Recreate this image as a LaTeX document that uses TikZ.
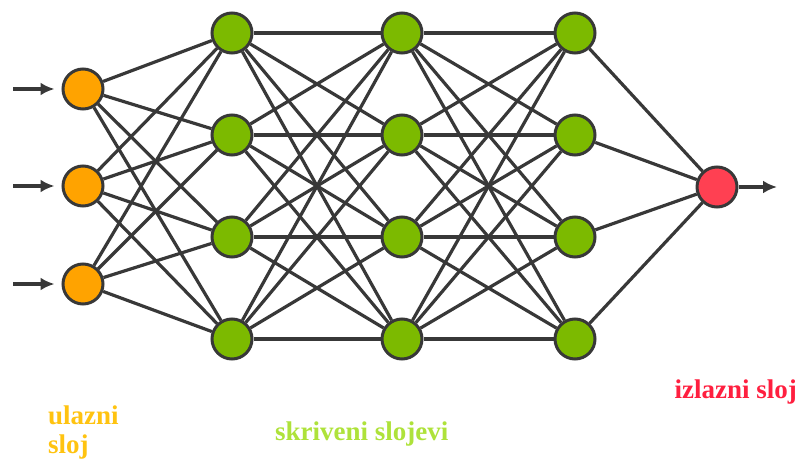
\documentclass[tikz,border=0pt]{standalone}
\usepackage{fontspec}
\setmainfont{Liberation Serif}
\usepackage{tikz}
\usetikzlibrary{calc,positioning,arrows,arrows.meta}
\definecolor{inorange}{HTML}{FFA300}
\definecolor{hidgreen}{HTML}{7CBA00}
\definecolor{outred}{HTML}{FF4052}
\definecolor{edgegray}{HTML}{383838}
\definecolor{lblorange}{HTML}{FFC310}
\definecolor{lblgreen}{HTML}{AEE23A}
\definecolor{lblred}{HTML}{FF1F3F}
\tikzstyle{neuron} = [circle, minimum size=40pt, inner sep=0pt, draw=edgegray, line width=3pt]
\tikzstyle{link} = [draw=edgegray, line width=3.2pt]
\tikzstyle{arrow} = [draw=edgegray, line width=3.6pt, -{Latex[length=14pt,width=13pt]}]

\begin{document}
\begin{tikzpicture}[x=1pt, y=-1pt]
\tikzset{%
	inp/.style = { neuron, fill=inorange },
	hid/.style = { neuron, fill=hidgreen },
	outp/.style = { neuron, fill=outred },
	lbl/.style = { font=\fontsize{27}{29}\selectfont\bfseries, inner sep=0pt, align=left }
}
\useasboundingbox (0,0) rectangle (799,462);

% input layer
\node(in1) [inp] at (83,89) {};
\node(in2) [inp] at (83,186) {};
\node(in3) [inp] at (83,284) {};

% hidden layers
\node(ha1) [hid] at (232,33) {};
\node(ha2) [hid] at (232,135) {};
\node(ha3) [hid] at (232,237) {};
\node(ha4) [hid] at (232,339) {};

\node(hb1) [hid] at (402,33) {};
\node(hb2) [hid] at (402,135) {};
\node(hb3) [hid] at (402,237) {};
\node(hb4) [hid] at (402,339) {};

\node(hc1) [hid] at (575,33) {};
\node(hc2) [hid] at (575,135) {};
\node(hc3) [hid] at (575,237) {};
\node(hc4) [hid] at (575,339) {};

% output layer
\node(out) [outp] at (717,187) {};

% connections
\foreach \i in {1,2,3} \foreach \j in {1,2,3,4} \draw [link] (in\i) -- (ha\j);
\foreach \i in {1,2,3,4} \foreach \j in {1,2,3,4} \draw [link] (ha\i) -- (hb\j);
\foreach \i in {1,2,3,4} \foreach \j in {1,2,3,4} \draw [link] (hb\i) -- (hc\j);
\foreach \i in {1,2,3,4} \draw [link] (hc\i) -- (out);

% arrows in and out
\coordinate (a1) at (13,89);
\coordinate (a2) at (13,186);
\coordinate (a3) at (13,284);
\coordinate (a4) at (777,187);
\draw [arrow] (a1) -- ([xshift=-7pt]in1.west);
\draw [arrow] (a2) -- ([xshift=-7pt]in2.west);
\draw [arrow] (a3) -- ([xshift=-7pt]in3.west);
\draw [arrow] (out.east) -- (a4);

% labels
\node(lin) [lbl, text=lblorange, anchor=base west] at (48,453) {ulazni\\sloj};
\node(lhid) [lbl, text=lblgreen, anchor=base west] at (275,440) {skriveni slojevi};
\node(lout) [lbl, text=lblred, anchor=base east] at (797,398) {izlazni sloj};
\end{tikzpicture}
\end{document}
